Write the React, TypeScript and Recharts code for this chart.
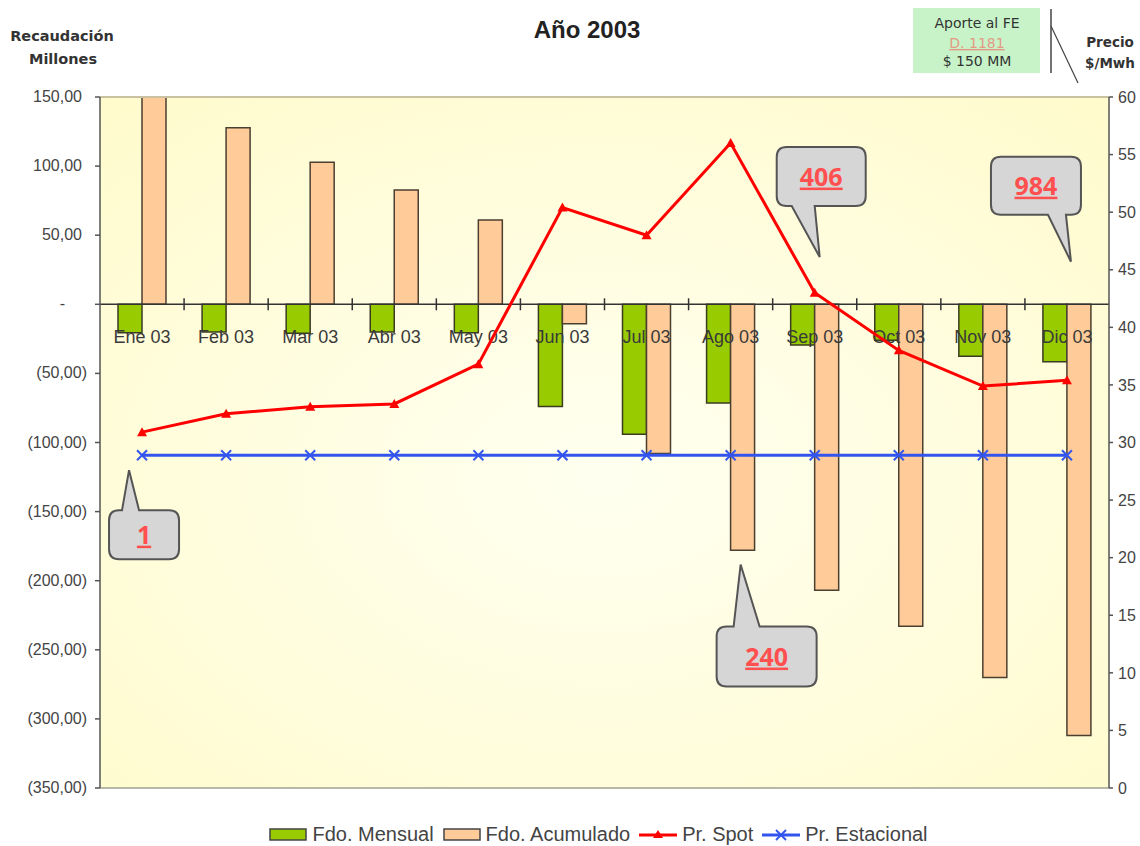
import { ComposedChart, Bar, Line, XAxis, YAxis, CartesianGrid, ReferenceLine, ReferenceDot, Legend } from 'recharts';

const months = ['Ene 03', 'Feb 03', 'Mar 03', 'Abr 03', 'May 03', 'Jun 03', 'Jul 03', 'Ago 03', 'Sep 03', 'Oct 03', 'Nov 03', 'Dic 03'];
const fdoMensual = [-20.5, -20, -21, -20, -20.5, -74, -94, -71.5, -29.5, -26, -37.5, -41.5];
const fdoAcumulado = [150, 127.8, 102.7, 82.7, 61, -14, -108, -178, -207, -233, -270, -312];
const prSpot = [30.9, 32.5, 33.1, 33.35, 36.8, 50.4, 48.0, 56.0, 43.0, 38.0, 34.9, 35.4];
const prEstacional = [28.9, 28.9, 28.9, 28.9, 28.9, 28.9, 28.9, 28.9, 28.9, 28.9, 28.9, 28.9];

const leftTicks = [150, 100, 50, 0, -50, -100, -150, -200, -250, -300, -350];
const rightTicks = [0, 5, 10, 15, 20, 25, 30, 35, 40, 45, 50, 55, 60];

// callouts: month, tip value on the price axis, text
const calloutMonths = ['Ene 03', 'Ago 03', 'Sep 03', 'Dic 03'];
const calloutValues = [27.6, 19.4, 46.1, 45.7];
const calloutTexts = ['1', '240', '406', '984'];

const data = months.map((mes, i) => ({
  mes,
  mensual: fdoMensual[i],
  acumulado: fdoAcumulado[i],
  spot: prSpot[i],
  estacional: prEstacional[i],
}));

// box geometry relative to the tail tip
const calloutBoxes = [
  { dx: -13, x0: -20, x1: 50, y0: 40, y1: 89, ta: -7, tb: 10, up: true },
  { dx: 10, x0: -24, x1: 76, y0: 62, y1: 122, ta: -7, tb: 19, up: true },
  { dx: 5, x0: -43, x1: 46, y0: -110, y1: -51, ta: -28, tb: -5, up: false },
  { dx: 4, x0: -80, x1: 10, y0: -105, y1: -47, ta: -23, tb: -5, up: false },
];

const fmtLeft = (v: number) => {
  if (v === 0) return '-';
  const s = Math.abs(v).toFixed(2).replace('.', ',');
  return v < 0 ? `(${s})` : s;
};

const LeftTick = ({ x, y, payload }: any) => {
  const v = payload.value;
  const dx = v === 0 ? -22 : v > 0 ? -5 : 0;
  return (
    <text x={x + dx} y={y} dy={5} textAnchor="end" fontSize={16} fill="#444" fontFamily="Liberation Sans, Arial, sans-serif">
      {fmtLeft(v)}
    </text>
  );
};

const MonthAxis = ({ viewBox }: any) => {
  if (!viewBox) return null;
  const { x, y, width } = viewBox;
  const step = width / months.length;
  return (
    <g>
      {months.map((m, i) => (
        <g key={m}>
          {i > 0 && <line x1={x + step * i} x2={x + step * i} y1={y - 6} y2={y + 6} stroke="#333" strokeWidth={1.5} />}
          <text x={x + step * (i + 0.5)} y={y + 39} textAnchor="middle" fontSize={18} fill="#3a3a3a" fontFamily="Liberation Sans, Arial, sans-serif">
            {m}
          </text>
        </g>
      ))}
    </g>
  );
};

const Triangle = ({ cx, cy }: any) => (
  <path d={`M${cx},${cy - 5} L${cx + 5},${cy + 4} L${cx - 5},${cy + 4} Z`} fill="#ff0000" />
);

const Cross = ({ cx, cy }: any) => (
  <g stroke="#3355ee" strokeWidth={2}>
    <line x1={cx - 5} y1={cy - 5} x2={cx + 5} y2={cy + 5} />
    <line x1={cx - 5} y1={cy + 5} x2={cx + 5} y2={cy - 5} />
  </g>
);

const calloutPath = (b: typeof calloutBoxes[number]) => {
  const r = 10;
  const { x0, x1, y0, y1, ta, tb } = b;
  if (b.up) {
    return `M${x0 + r},${y0} L${ta},${y0} L0,0 L${tb},${y0} L${x1 - r},${y0} Q${x1},${y0} ${x1},${y0 + r} L${x1},${y1 - r} Q${x1},${y1} ${x1 - r},${y1} L${x0 + r},${y1} Q${x0},${y1} ${x0},${y1 - r} L${x0},${y0 + r} Q${x0},${y0} ${x0 + r},${y0} Z`;
  }
  return `M${x0 + r},${y0} L${x1 - r},${y0} Q${x1},${y0} ${x1},${y0 + r} L${x1},${y1 - r} Q${x1},${y1} ${x1 - r},${y1} L${tb},${y1} L0,0 L${ta},${y1} L${x0 + r},${y1} Q${x0},${y1} ${x0},${y1 - r} L${x0},${y0 + r} Q${x0},${y0} ${x0 + r},${y0} Z`;
};

const makeCallout = (i: number) => ({ cx, cy }: any) => {
  const b = calloutBoxes[i];
  const tx = cx + b.dx;
  return (
    <g transform={`translate(${tx},${cy})`}>
      <path d={calloutPath(b)} fill="#d6d6d6" stroke="#555" strokeWidth={2} />
      <text
        x={(b.x0 + b.x1) / 2}
        y={(b.y0 + b.y1) / 2 + 9}
        textAnchor="middle"
        fontSize={25}
        fontWeight="bold"
        fill="#ff4f4f"
        fontFamily="Open Sans, sans-serif"
        style={{ textDecoration: 'underline' }}
      >
        {calloutTexts[i]}
      </text>
    </g>
  );
};

const legendItems = [
  { name: 'Fdo. Mensual', kind: 'rect', color: '#99cc00' },
  { name: 'Fdo. Acumulado', kind: 'rect', color: '#ffcc99' },
  { name: 'Pr. Spot', kind: 'tri', color: '#ff0000' },
  { name: 'Pr. Estacional', kind: 'cross', color: '#3355ee' },
];

const LegendContent = () => (
  <div style={{ display: 'flex', justifyContent: 'center', alignItems: 'center', fontFamily: 'Liberation Sans, Arial, sans-serif', fontSize: 20, color: '#444', paddingLeft: 66 }}>
    {legendItems.map((it) => (
      <div key={it.name} style={{ display: 'flex', alignItems: 'center', marginRight: 9 }}>
        <svg width={40} height={16} style={{ marginRight: 3 }}>
          {it.kind === 'rect' && <rect x={1} y={2} width={36} height={11} fill={it.color} stroke="#444" strokeWidth={1.5} />}
          {it.kind === 'tri' && (
            <g>
              <line x1={0} x2={38} y1={8} y2={8} stroke={it.color} strokeWidth={3} />
              <path d="M19,3 L24,11 L14,11 Z" fill={it.color} />
            </g>
          )}
          {it.kind === 'cross' && (
            <g stroke={it.color} strokeWidth={2}>
              <line x1={0} x2={38} y1={8} y2={8} strokeWidth={3} />
              <line x1={14} y1={3} x2={24} y2={13} />
              <line x1={14} y1={13} x2={24} y2={3} />
            </g>
          )}
        </svg>
        <span>{it.name}</span>
      </div>
    ))}
  </div>
);

const Annotations = () => (
  <svg width={1140} height={846} style={{ position: 'absolute', left: 0, top: 0, pointerEvents: 'none' }}>
    <text x={587} y={38} textAnchor="middle" fontSize={24} fontWeight="bold" fill="#222" fontFamily="Liberation Sans, Arial, sans-serif">
      Año 2003
    </text>
    <g fontFamily="DejaVu Sans, sans-serif" fontWeight="bold" fontSize={14.5} fill="#333">
      <text x={62} y={41} textAnchor="middle">Recaudación</text>
      <text x={63} y={64} textAnchor="middle">Millones</text>
    </g>
    <g fontFamily="DejaVu Sans, sans-serif" fontWeight="bold" fontSize={13.5} fill="#333">
      <text x={1110} y={47} textAnchor="middle">Precio</text>
      <text x={1110} y={68} textAnchor="middle">$/Mwh</text>
    </g>
    <rect x={913} y={8} width={127} height={65} fill="#c8f3c8" />
    <g fontFamily="DejaVu Sans, sans-serif" fontSize={14} textAnchor="middle">
      <text x={977} y={28} fill="#333">Aporte al FE</text>
      <text x={977} y={48} fill="#e29a86" style={{ textDecoration: 'underline' }}>D. 1181</text>
      <text x={977} y={66} fill="#333">$ 150 MM</text>
    </g>
    <line x1={1051} y1={9} x2={1051} y2={73} stroke="#444" strokeWidth={1.5} />
    <line x1={1051} y1={26} x2={1078} y2={83} stroke="#444" strokeWidth={1.2} />
  </svg>
);

export default function App() {
  return (
    <div style={{ position: 'absolute', left: 0, top: 0, width: 1140, height: 846, background: '#fff' }}>
      <ComposedChart width={1140} height={846} data={data} margin={{ top: 97, right: 0, bottom: 58, left: 0 }} barGap={0} barSize={24}>
        <defs>
          <radialGradient id="plotBg" cx="0.5" cy="0.55" r="0.75">
            <stop offset="0%" stopColor="#fffff0" />
            <stop offset="100%" stopColor="#fffbcc" />
          </radialGradient>
        </defs>
        <CartesianGrid yAxisId="left" horizontal={false} vertical={false} fill="url(#plotBg)" />
        <XAxis dataKey="mes" hide />
        <YAxis
          yAxisId="left"
          width={100}
          domain={[-350, 150]}
          ticks={leftTicks}
          interval={0}
          tick={<LeftTick />}
          tickSize={5}
          tickMargin={8}
          axisLine={{ stroke: '#555', strokeWidth: 1.5 }}
          tickLine={{ stroke: '#555', strokeWidth: 1.5 }}
        />
        <YAxis
          yAxisId="right"
          orientation="right"
          width={31}
          domain={[0, 60]}
          ticks={rightTicks}
          interval={0}
          tickSize={4}
          tickMargin={5}
          tick={{ fontSize: 16, fill: '#444', fontFamily: 'Liberation Sans, Arial, sans-serif' }}
          axisLine={{ stroke: '#555', strokeWidth: 1.5 }}
          tickLine={{ stroke: '#555', strokeWidth: 1.5 }}
        />
        <ReferenceLine yAxisId="left" y={150} stroke="#c9c1a0" strokeWidth={2} />
        <ReferenceLine yAxisId="left" y={-350} stroke="#b8b8a8" strokeWidth={2} />
        <Bar yAxisId="left" dataKey="mensual" name="Fdo. Mensual" fill="#99cc00" stroke="#3b3b20" strokeWidth={1.5} isAnimationActive={false} />
        <Bar yAxisId="left" dataKey="acumulado" name="Fdo. Acumulado" fill="#ffcc99" stroke="#4a3f30" strokeWidth={1.5} isAnimationActive={false} />
        <ReferenceLine yAxisId="left" y={0} stroke="#333" strokeWidth={1.5} label={<MonthAxis />} />
        <Line yAxisId="right" dataKey="estacional" name="Pr. Estacional" stroke="#3355ee" strokeWidth={3} dot={<Cross />} activeDot={false} isAnimationActive={false} />
        <Line yAxisId="right" dataKey="spot" name="Pr. Spot" stroke="#ff0000" strokeWidth={3} dot={<Triangle />} activeDot={false} isAnimationActive={false} />
        {calloutMonths.map((m, i) => (
          <ReferenceDot key={m} yAxisId="right" x={m} y={calloutValues[i]} r={0} shape={makeCallout(i)} />
        ))}
        <Legend layout="horizontal" verticalAlign="middle" align="center" wrapperStyle={{ top: 823, left: 0, width: 1140 }} content={<LegendContent />} />
      </ComposedChart>
      <Annotations />
    </div>
  );
}
